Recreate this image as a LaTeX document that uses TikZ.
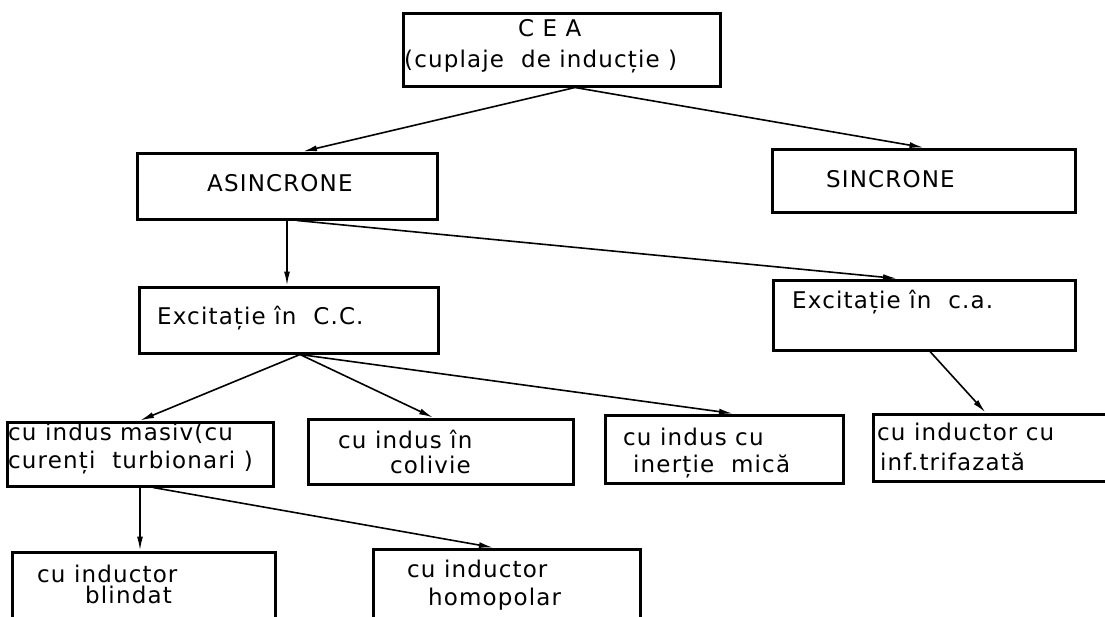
\documentclass[tikz,border=0pt]{standalone}
\usepackage{fontspec}
\setmainfont{DejaVu Sans}[LetterSpace=5]
\usetikzlibrary{arrows.meta}
\begin{document}
\begin{tikzpicture}[x=1pt,y=-1pt,
  box/.style={draw=black,line width=3pt,rectangle,inner sep=0pt,anchor=center},
  txt/.style={inner sep=0pt,anchor=base west,font=\fontsize{23}{28}\selectfont},
  conn/.style={line width=1.6pt,-{Latex[length=14pt,width=6pt]}}]
\useasboundingbox (0,0) rectangle (1105,616);
\fill[white] (0,0) rectangle (1105,616);
% boxes
\node[box,minimum width=317pt,minimum height=73pt] (cea) at (561.5,49.5) {};
\node[box,minimum width=300pt,minimum height=66pt] (asin) at (287,186) {};
\node[box,minimum width=303pt,minimum height=63pt] (sinc) at (923.5,180.5) {};
\node[box,minimum width=299pt,minimum height=66pt] (exdc) at (288.5,320) {};
\node[box,minimum width=302pt,minimum height=70pt] (exac) at (924,315) {};
\node[box,minimum width=266pt,minimum height=64pt] (masiv) at (140,454) {};
\node[box,minimum width=265pt,minimum height=65pt] (coliv) at (440.5,451.5) {};
\node[box,minimum width=238pt,minimum height=68pt] (inert) at (724,449) {};
\node[box,minimum width=235pt,minimum height=67pt] (trif) at (990.5,447.5) {};
\node[box,minimum width=263pt,minimum height=73pt] (blind) at (143.5,588.5) {};
\node[box,minimum width=267pt,minimum height=76pt] (homo) at (506.5,587) {};
% texts
\node[txt] (t1a) at (518,36) {C E A};
\node[txt] (t1b) at (404,67) {(cuplaje\ \ de inducție )};
\node[txt] (t2) at (207,191) {ASINCRONE};
\node[txt] (t3) at (826,187) {SINCRONE};
\node[txt] (t4) at (157,324) {Excitație în\ \ C.C.};
\node[txt] (t5) at (792,308) {Excitație în\ \ c.a.};
\node[txt] (t6a) at (8,440) {cu indus masiv(cu};
\node[txt] (t6b) at (8,468) {curenți\ \ turbionari )};
\node[txt] (t7a) at (338,448) {cu indus în};
\node[txt] (t7b) at (390,473) {colivie};
\node[txt] (t8a) at (623,445) {cu indus cu};
\node[txt] (t8b) at (633,472) {inerție\ \ mică};
\node[txt] (t9a) at (877,440) {cu inductor cu};
\node[txt] (t9b) at (880,470) {inf.trifazată};
\node[txt] (t10a) at (37,582) {cu inductor};
\node[txt] (t10b) at (85,603) {blindat};
\node[txt] (t11a) at (407,577) {cu inductor};
\node[txt] (t11b) at (428,605) {homopolar};
% connectors
\draw[conn] ([xshift=13.5pt]cea.south) -- ([xshift=16pt]asin.north);
\draw[conn] ([xshift=13.5pt]cea.south) -- (sinc.north);
\draw[conn] (asin.south) -- (asin.south |- exdc.north);
\draw[conn] ([xshift=10pt]asin.south) -- ([xshift=-27pt]exac.north);
\draw[conn] ([xshift=11.5pt]exdc.south) -- (masiv.north);
\draw[conn] ([xshift=11.5pt]exdc.south) -- ([xshift=-7.5pt]coliv.north);
\draw[conn] ([xshift=11.5pt]exdc.south) -- ([xshift=9pt]inert.north);
\draw[conn] ([xshift=6pt]exac.south) -- ([xshift=-5pt]trif.north);
\draw[conn] (masiv.south) -- (masiv.south |- blind.north);
\draw[conn] ([xshift=13pt]masiv.south) -- ([xshift=-13.5pt]homo.north);
\end{tikzpicture}
\end{document}
